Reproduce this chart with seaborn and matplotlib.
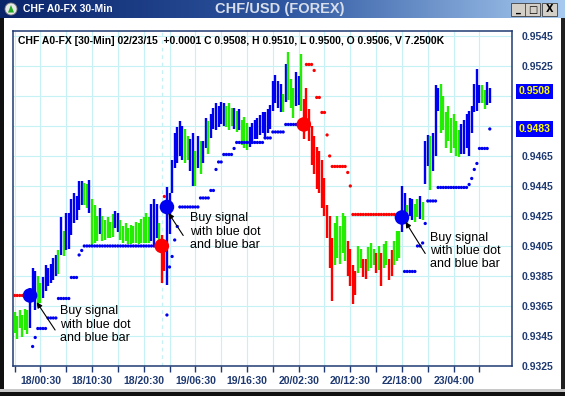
import numpy as np
import pandas as pd
import matplotlib
matplotlib.use("Agg")
import matplotlib.pyplot as plt
import matplotlib.patches as mpatches
import matplotlib.transforms as mtrans
from matplotlib.colors import LinearSegmentedColormap
import seaborn as sns

# ==========================================
# Data (30-min bars, CHF/USD)
# ==========================================

highs = [
    0.9361, 0.9358, 0.9362, 0.9359, 0.9363, 0.9362, 0.9377, 0.9390, 0.9388, 0.9385,
    0.9380, 0.9384, 0.9392, 0.9390, 0.9393, 0.9397, 0.9399, 0.9402, 0.9424, 0.9415,
    0.9427, 0.9427, 0.9436, 0.9440, 0.9438, 0.9448, 0.9448, 0.9447, 0.9446, 0.9449,
    0.9436, 0.9432, 0.9425, 0.9430, 0.9425, 0.9422, 0.9424, 0.9421, 0.9426, 0.9428,
    0.9427, 0.9422, 0.9418, 0.9420, 0.9417, 0.9419, 0.9418, 0.9421, 0.9420, 0.9423,
    0.9424, 0.9427, 0.9424, 0.9433, 0.9436, 0.9433, 0.9420, 0.9412, 0.9407, 0.9444,
    0.9440, 0.9462, 0.9480, 0.9484, 0.9488, 0.9485, 0.9483, 0.9478, 0.9476, 0.9480,
    0.9468, 0.9478, 0.9475, 0.9475, 0.9490, 0.9488, 0.9493, 0.9497, 0.9500, 0.9498,
    0.9501, 0.9500, 0.9498, 0.9500, 0.9497, 0.9497, 0.9495, 0.9496, 0.9489, 0.9491,
    0.9487, 0.9484, 0.9487, 0.9489, 0.9490, 0.9492, 0.9494, 0.9494, 0.9496, 0.9499,
    0.9515, 0.9519, 0.9515, 0.9513, 0.9506, 0.9526, 0.9534, 0.9516, 0.9510, 0.9521,
    0.9518, 0.9533, 0.9503, 0.9510, 0.9496, 0.9485, 0.9478, 0.9471, 0.9468, 0.9462,
    0.9450, 0.9432, 0.9425, 0.9410, 0.9420, 0.9425, 0.9418, 0.9427, 0.9425, 0.9408,
    0.9403, 0.9392, 0.9388, 0.9405, 0.9403, 0.9396, 0.9396, 0.9404, 0.9407, 0.9403,
    0.9400, 0.9405, 0.9400, 0.9406, 0.9408, 0.9396, 0.9402, 0.9408, 0.9415, 0.9415,
    0.9445, 0.9440, 0.9432, 0.9437, 0.9436, 0.9433, 0.9436, 0.9438, 0.9434, 0.9475,
    0.9479, 0.9478, 0.9480, 0.9512, 0.9510, 0.9513, 0.9505, 0.9494, 0.9498, 0.9490,
    0.9493, 0.9488, 0.9482, 0.9486, 0.9489, 0.9493, 0.9495, 0.9498, 0.9513, 0.9523,
    0.9512, 0.9512, 0.9509, 0.9514, 0.9510,
]

lows = [
    0.9347, 0.9343, 0.9350, 0.9344, 0.9349, 0.9346, 0.9350, 0.9370, 0.9362, 0.9365,
    0.9367, 0.9370, 0.9375, 0.9378, 0.9380, 0.9382, 0.9385, 0.9386, 0.9399, 0.9398,
    0.9402, 0.9403, 0.9412, 0.9420, 0.9422, 0.9429, 0.9432, 0.9432, 0.9430, 0.9427,
    0.9405, 0.9407, 0.9408, 0.9413, 0.9408, 0.9409, 0.9410, 0.9410, 0.9411, 0.9417,
    0.9414, 0.9409, 0.9407, 0.9408, 0.9406, 0.9406, 0.9407, 0.9407, 0.9406, 0.9407,
    0.9407, 0.9407, 0.9407, 0.9408, 0.9405, 0.9410, 0.9405, 0.9380, 0.9388, 0.9379,
    0.9413, 0.9440, 0.9457, 0.9460, 0.9465, 0.9462, 0.9460, 0.9462, 0.9455, 0.9445,
    0.9445, 0.9457, 0.9453, 0.9460, 0.9470, 0.9466, 0.9477, 0.9483, 0.9482, 0.9484,
    0.9486, 0.9485, 0.9484, 0.9482, 0.9485, 0.9483, 0.9481, 0.9482, 0.9472, 0.9470,
    0.9469, 0.9471, 0.9473, 0.9476, 0.9476, 0.9479, 0.9480, 0.9477, 0.9480, 0.9483,
    0.9495, 0.9500, 0.9497, 0.9494, 0.9494, 0.9501, 0.9502, 0.9497, 0.9490, 0.9498,
    0.9499, 0.9495, 0.9476, 0.9483, 0.9475, 0.9459, 0.9453, 0.9443, 0.9440, 0.9430,
    0.9425, 0.9410, 0.9390, 0.9368, 0.9392, 0.9397, 0.9393, 0.9400, 0.9395, 0.9385,
    0.9378, 0.9366, 0.9372, 0.9387, 0.9390, 0.9384, 0.9383, 0.9388, 0.9390, 0.9392,
    0.9387, 0.9389, 0.9378, 0.9390, 0.9392, 0.9382, 0.9385, 0.9392, 0.9395, 0.9397,
    0.9414, 0.9420, 0.9420, 0.9425, 0.9422, 0.9421, 0.9424, 0.9423, 0.9422, 0.9446,
    0.9458, 0.9442, 0.9455, 0.9465, 0.9495, 0.9480, 0.9482, 0.9470, 0.9475, 0.9467,
    0.9470, 0.9465, 0.9464, 0.9466, 0.9466, 0.9470, 0.9465, 0.9480, 0.9494, 0.9495,
    0.9500, 0.9500, 0.9496, 0.9499, 0.9500,
]

# b = blue bar, g = green bar, r = red bar
bar_codes = (
    "ggggggbbbg" "gbbbbbbgbg" "bbbbbbbggb" "gggbgggggb" "bggggggggg"
    "gggbbbgrrb" "bbbbbbggbb" "gbgbbgbbbb" "bbgggbgbgg" "gbbbbbbbbb"
    "bbbbgbgggb" "bgrrrrrrrr" "rrrrgggggr" "rrrggrrggg" "rgrggrrggg"
    "bbgbbggbgb" "bgbbbggggg" "gggbbbbbbb" "bggbb"
)

N = None
stop_values = [
    0.9372, 0.9372, 0.9372, 0.9372, 0.9372, 0.9372, N, 0.9338, 0.9344, 0.9350,
    0.9350, 0.9350, 0.9350, 0.9357, 0.9357, 0.9357, 0.9357, 0.9370, 0.9370, 0.9370,
    0.9370, 0.9370, 0.9384, 0.9384, 0.9384, 0.9399, 0.9402, 0.9405, 0.9405, 0.9405,
    0.9405, 0.9405, 0.9405, 0.9405, 0.9405, 0.9405, 0.9405, 0.9405, 0.9405, 0.9405,
    0.9405, 0.9405, 0.9405, 0.9405, 0.9405, 0.9405, 0.9405, 0.9405, 0.9405, 0.9405,
    0.9405, 0.9405, 0.9405, 0.9405, 0.9405, 0.9405, 0.9405, N, 0.9438, 0.9359,
    0.9391, 0.9398, 0.9409, 0.9418, 0.9431, 0.9431, 0.9431, 0.9431, 0.9431, 0.9431,
    0.9431, 0.9431, 0.9437, 0.9437, 0.9437, 0.9437, 0.9442, 0.9442, 0.9456, 0.9461,
    0.9461, 0.9466, 0.9466, 0.9466, 0.9466, 0.9470, 0.9474, 0.9474, 0.9474, 0.9474,
    0.9474, 0.9474, 0.9474, 0.9474, 0.9474, 0.9474, 0.9474, 0.9477, 0.9477, 0.9477,
    0.9481, 0.9481, 0.9481, 0.9481, 0.9481, 0.9486, 0.9486, 0.9486, 0.9486, 0.9486,
    0.9486, 0.9486, N, 0.9526, 0.9526, 0.9526, 0.9522, 0.9504, 0.9504, 0.9494,
    0.9494, 0.9479, 0.9465, 0.9458, 0.9458, 0.9458, 0.9458, 0.9458, 0.9458, 0.9454,
    0.9445, 0.9426, 0.9426, 0.9426, 0.9426, 0.9426, 0.9426, 0.9426, 0.9426, 0.9426,
    0.9426, 0.9426, 0.9426, 0.9426, 0.9426, 0.9426, 0.9426, 0.9426, 0.9426, 0.9426,
    N, 0.9388, 0.9388, 0.9388, 0.9388, 0.9388, 0.9405, 0.9405, 0.9407, 0.9420,
    0.9435, 0.9435, 0.9435, 0.9435, 0.9444, 0.9444, 0.9444, 0.9444, 0.9444, 0.9444,
    0.9444, 0.9444, 0.9444, 0.9444, 0.9444, 0.9444, 0.9446, 0.9450, 0.9456, 0.9460,
    0.9470, 0.9470, 0.9470, 0.9470, 0.9483,
]

signal_bars = [6, 57, 59, 112, 150]
signal_values = [0.9372, 0.9405, 0.9431, 0.9486, 0.9424]
signal_kinds = ["buy", "sell", "buy", "sell", "buy"]

x_label_bars = [10, 30, 50, 70, 90, 110, 130, 150, 170]
x_labels = ["18/00:30", "18/10:30", "18/20:30", "19/06:30", "19/16:30",
            "20/02:30", "20/12:30", "22/18:00", "23/04:00"]
y_ticks = [0.9325, 0.9345, 0.9365, 0.9385, 0.9405, 0.9425, 0.9445,
           0.9465, 0.9485, 0.9505, 0.9525, 0.9545]
last_close = 0.9508
last_stop = 0.9483

header = ("CHF A0-FX [30-Min] 02/23/15  +0.0001 C 0.9508, H 0.9510, "
          "L 0.9500, O 0.9506, V 7.2500K")

# ==========================================
# Style
# ==========================================

BLUE = "#0000F0"
GREEN = "#22EE00"
RED = "#FF0000"
GRID = "#C6F2F6"
NAVY = "#1F3A72"

sns.set_theme(style="white")
plt.rcParams["font.family"] = ["Liberation Sans", "DejaVu Sans"]

W, H = 565, 396
fig = plt.figure(figsize=(W / 100, H / 100), dpi=100, facecolor="white")


def fx(px):
    return px / W


def fy(py):
    return 1 - py / H


ax = fig.add_axes([fx(13), fy(366), fx(512) - fx(13), fy(31) - fy(366)])
ax.set_facecolor("white")

bars = pd.DataFrame({"high": highs, "low": lows, "code": list(bar_codes)})
bars["bar"] = np.arange(len(bars))
color_map = {"b": BLUE, "g": GREEN, "r": RED}

ax.vlines(bars["bar"], bars["low"], bars["high"],
          colors=[color_map[c] for c in bars["code"]], lw=1.7, zorder=3)

# trailing stop dots
stops = pd.DataFrame({"bar": bars["bar"], "stop": stop_values, "high": highs}).dropna()
stops["side"] = np.where(stops["stop"] > stops["high"], "above", "below")
sns.scatterplot(data=stops, x="bar", y="stop", hue="side",
                palette={"above": RED, "below": BLUE}, s=5.5, linewidth=0,
                legend=False, ax=ax, zorder=4)

signals = pd.DataFrame({"bar": signal_bars, "value": signal_values, "kind": signal_kinds})
sns.scatterplot(data=signals, x="bar", y="value", hue="kind",
                palette={"buy": BLUE, "sell": RED}, s=110, linewidth=0,
                legend=False, ax=ax, zorder=5)

# annotations
notes = [
    ((17.6, 0.93655), (15.7, 0.9349), (8.6, 0.93675)),
    ((68.0, 0.94275), (65.3, 0.9412), (59.6, 0.9427)),
    ((161.0, 0.94145), (159.0, 0.9400), (151.4, 0.9421)),
]
for (tx, ty), tail, head in notes:
    ax.text(tx, ty, "Buy signal\nwith blue dot\nand blue bar", fontsize=9,
            color="black", va="top", ha="left", linespacing=1.15, zorder=6)
    ax.annotate("", xy=head, xytext=tail,
                arrowprops=dict(arrowstyle="-|>", color="black", lw=0.8,
                                mutation_scale=8, shrinkA=0, shrinkB=0), zorder=6)

# axes, grid, ticks
ax.set_xlim(-0.6, 192.6)
ax.set_ylim(0.9325, 0.95483)
ax.set_xticks(x_label_bars)
ax.set_xticklabels(x_labels)
ax.set_xticks([0, 20, 40, 60, 80, 100, 120, 140, 160, 180], minor=True)
ax.set_yticks(y_ticks)
ax.set_yticklabels(["" if v in (0.9485, 0.9505) else f"{v:.4f}" for v in y_ticks])
ax.yaxis.tick_right()
ax.grid(True, which="both", color=GRID, lw=0.8, zorder=0)
ax.axvline(57, color=GRID, lw=0.9, ls=(0, (3, 3)), zorder=0)
ax.set_axisbelow(True)
ax.set_xlabel("")
ax.set_ylabel("")

ax.tick_params(axis="x", which="both", direction="out", length=4, width=1,
               color=NAVY, pad=3, labelsize=7.5, labelcolor=NAVY, bottom=True)
ax.tick_params(axis="y", length=0, pad=7, labelsize=7.5, labelcolor=NAVY)
for lab in ax.get_xticklabels() + ax.get_yticklabels():
    lab.set_fontweight("bold")
for sp in ax.spines.values():
    sp.set_color(NAVY)
    sp.set_linewidth(1.1)

# price boxes at right
trans = mtrans.blended_transform_factory(ax.transAxes, ax.transData)
for val in [last_close, last_stop]:
    ax.text(1.0 + 7 / 499, val, f"{val:.4f}", transform=trans, fontsize=7.5,
            fontweight="bold", color="#FFFF00", va="center", ha="left",
            bbox=dict(boxstyle="square,pad=0.25", fc="#0000FF", ec="none"))

fig.text(fx(18), fy(41), header, fontsize=7.5, fontweight="bold",
         color="black", va="center", ha="left")

# ==========================================
# Window frame
# ==========================================

tb = fig.add_axes([0, fy(18), 1, 18 / H])
grad = np.linspace(0, 1, 256)[None, :]
tb.imshow(grad, aspect="auto",
          cmap=LinearSegmentedColormap.from_list("tb", ["#0A246A", "#2E56A0", "#A6CAF0"]),
          extent=[0, 1, 0, 1])
tb.set_axis_off()

fig.text(fx(23), fy(9.5), "CHF A0-FX 30-Min", fontsize=7.5, fontweight="bold",
         color="white", va="center", ha="left")
fig.text(fx(280), fy(9), "CHF/USD (FOREX)", fontsize=10.5, fontweight="bold",
         color="#D8DEEA", va="center", ha="center")

fig.patches.append(mpatches.Ellipse((fx(11), fy(9)), 12 / W, 12 / H,
                                    transform=fig.transFigure, fc="#E8E8E8",
                                    ec="#808080", lw=0.6))
fig.patches.append(mpatches.Polygon([(fx(8), fy(12.5)), (fx(14), fy(12.5)), (fx(11), fy(5))],
                                    closed=True, transform=fig.transFigure,
                                    fc="#22AA22", ec="none"))

for x0, glyph in [(511, "_"), (525, "\u25a1"), (542, "X")]:
    fig.patches.append(mpatches.Rectangle((fx(x0), fy(16)), 15 / W, 13 / H,
                                          transform=fig.transFigure, fc="#D4D0C8",
                                          ec="#404040", lw=0.6))
    fig.text(fx(x0 + 7.5), fy(9.5), glyph, fontsize=7, fontweight="bold",
             color="black", va="center", ha="center", family="DejaVu Sans")

for (x0, y0, w, h, c) in [(0, 18, 4, 378, "#101010"), (561, 18, 4, 378, "#202020"),
                          (0, 389, 565, 3, "#C8C8C8"), (0, 392, 565, 4, "#101010")]:
    fig.patches.append(mpatches.Rectangle((fx(x0), fy(y0 + h)), w / W, h / H,
                                          transform=fig.transFigure, fc=c, ec="none"))

fig.savefig("out.png", dpi=100, facecolor="white")
